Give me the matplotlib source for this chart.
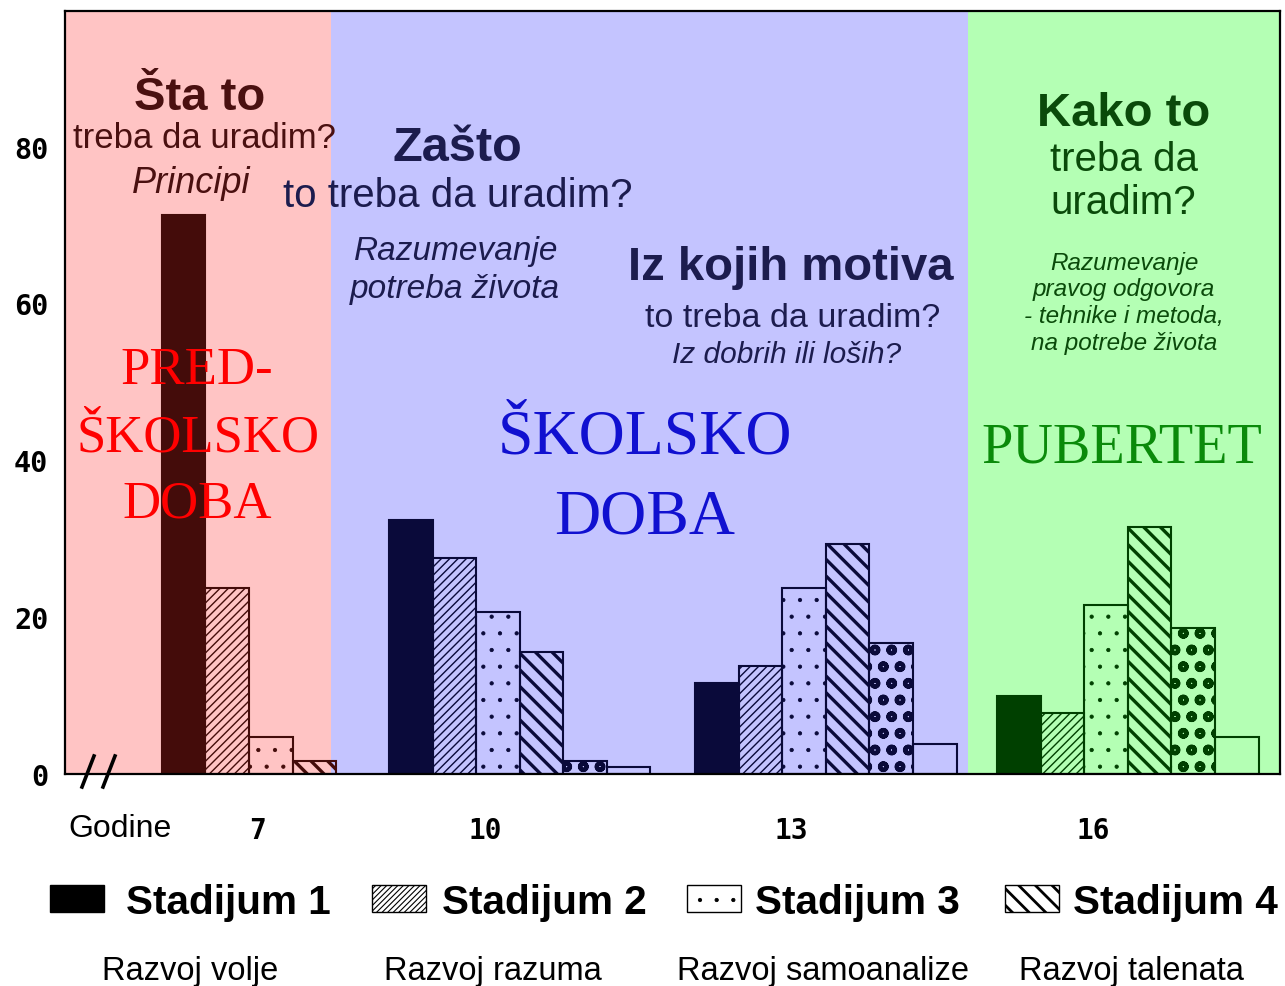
"""Razvojni stadijumi po uzrastu - grouped hatched bars on coloured age bands."""

import matplotlib

matplotlib.use("Agg")
import matplotlib.pyplot as plt
from matplotlib.lines import Line2D
from matplotlib.patches import Rectangle

# data: six bars per age group (last two have no legend entry in the original)
ages = ["7", "10", "13", "16"]
values_7 = [71.3, 23.7, 4.7, 1.7, 0.0, 0.0]
values_10 = [32.4, 27.6, 20.7, 15.6, 1.7, 0.9]
values_13 = [11.6, 13.8, 23.7, 29.3, 16.7, 3.8]
values_16 = [9.9, 7.8, 21.6, 31.5, 18.6, 4.7]
y_ticks = [0, 20, 40, 60, 80]
stage_labels = ["Stadijum 1", "Stadijum 2", "Stadijum 3", "Stadijum 4"]
stage_notes = ["Razvoj volje", "Razvoj razuma", "Razvoj samoanalize", "Razvoj talenata"]

W, H = 1285, 987
SANS = "Liberation Sans"
SERIF = "Liberation Serif"
MONO = "DejaVu Sans Mono"

BROWN = "#4a1010"
NAVY = "#1c1c4e"
DKGREEN = "#0a4a0a"

# layout in bar-width units
group_start = [2.22, 7.43, 14.45, 21.38]
group_fill = ["#440c0a", "#0a0a3a", "#0a0a3a", "#004000"]
bands = [(0.0, 6.1, "#ffc4c4"), (6.1, 20.71, "#c4c4ff"), (20.71, 27.87, "#b4ffb4")]
hatches = [None, "////", ".", "\\\\", "o", None]
hatch_lw = [1.0, 1.0, 0.6, 2.4, 3.0, 1.0]


def fx(x):
    return x / W


def fy(y):
    return 1 - y / H


def put(text, x, y, size, color, weight="normal", style="normal", family=SANS, ha="center"):
    fig.text(fx(x), fy(y), text, ha=ha, va="baseline", fontsize=size, color=color,
             fontweight=weight, fontstyle=style, family=family, zorder=5)


def set_hlw(patch, lw):
    if hasattr(patch, "set_hatch_linewidth"):
        patch.set_hatch_linewidth(lw)


fig = plt.figure(figsize=(W / 100, H / 100), dpi=100)
ax = fig.add_axes([fx(65), fy(775), 1215 / W, 763 / H])

for x0, x1, color in bands:
    ax.axvspan(x0, x1, color=color, lw=0, zorder=0)

groups = [values_7, values_10, values_13, values_16]
for start, vals, dark in zip(group_start, groups, group_fill):
    for i, v in enumerate(vals):
        if v <= 0:
            continue
        solid = i == 0
        with plt.rc_context({"hatch.linewidth": hatch_lw[i]}):
            bar = ax.bar(start + i + 0.5, v, width=1.0,
                         facecolor=dark if solid else "none",
                         edgecolor=dark, linewidth=1.5,
                         hatch=hatches[i], zorder=2)[0]
        set_hlw(bar, hatch_lw[i])

ax.set_xlim(0, 27.87)
ax.set_ylim(0, 97.3)
ax.set_yticks(y_ticks)
ax.set_yticklabels([str(t) for t in y_ticks], family=MONO, fontweight="bold", fontsize=20.5)
ax.set_xticks([s + 2.2 for s in group_start])
ax.set_xticklabels(ages, family=MONO, fontweight="bold", fontsize=20)
ax.tick_params(axis="y", length=0, pad=12)
ax.tick_params(axis="x", length=0, pad=30)
for sp in ax.spines.values():
    sp.set_linewidth(1.6)
    sp.set_color("black")

# axis break marks
for x0 in (82, 103):
    fig.add_artist(Line2D([fx(x0), fx(x0 + 12)], [fy(788), fy(757)],
                          color="black", lw=2.6, zorder=6))

put("Godine", 68, 837, 23, "black", ha="left")

# question texts
put("Šta to", 200, 110, 34, BROWN, weight="bold")
put("treba da uradim?", 204, 148, 25, BROWN)
put("Principi", 191, 193, 26, BROWN, style="italic")

put("Zašto", 457, 161, 35, NAVY, weight="bold")
put("to treba da uradim?", 458, 207, 29, NAVY)
put("Razumevanje", 456, 260, 24, NAVY, style="italic")
put("potreba života", 455, 298, 24, NAVY, style="italic")

put("Iz kojih motiva", 791, 280, 34, NAVY, weight="bold")
put("to treba da uradim?", 793, 327, 24.5, NAVY)
put("Iz dobrih ili loših?", 787, 363, 21.5, NAVY, style="italic")

put("Kako to", 1124, 126, 34, DKGREEN, weight="bold")
put("treba da", 1124, 171, 29, DKGREEN)
put("uradim?", 1123, 214, 29, DKGREEN)
for txt, yy in zip(["Razumevanje", "pravog odgovora", "- tehnike i metoda,", "na potrebe života"],
                   [270, 296, 323, 350]):
    put(txt, 1124, yy, 17.5, DKGREEN, style="italic")

# age band titles
put("PRED-", 197, 384, 38, "#ff0000", family=SERIF)
put("ŠKOLSKO", 198, 451, 38, "#ff0000", family=SERIF)
put("DOBA", 197, 517, 38, "#ff0000", family=SERIF)
put("ŠKOLSKO", 645, 454, 46, "#1010d0", family=SERIF)
put("DOBA", 645, 534, 46, "#1010d0", family=SERIF)
put("PUBERTET", 1122, 463, 40.5, "#0a8a0a", family=SERIF)

# legend row
box_x = [50, 372, 687, 1005]
label_x = [126, 442, 755, 1073]
note_x = [190, 493, 823, 1131]
legend_hatch = [None, "//////", ".", "\\\\"]
legend_lw = [1.0, 0.8, 0.6, 2.0]
for i in range(4):
    with plt.rc_context({"hatch.linewidth": legend_lw[i]}):
        rect = Rectangle((fx(box_x[i]), fy(913)), 54 / W, 27 / H,
                         transform=fig.transFigure,
                         facecolor="black" if i == 0 else "white",
                         edgecolor="black", lw=1.0, hatch=legend_hatch[i], zorder=5)
    set_hlw(rect, legend_lw[i])
    fig.add_artist(rect)
    put(stage_labels[i], label_x[i], 914, 29.2, "black", weight="bold", ha="left")
    put(stage_notes[i], note_x[i], 980, 23.5, "black")

fig.savefig("out.png", dpi=100)
